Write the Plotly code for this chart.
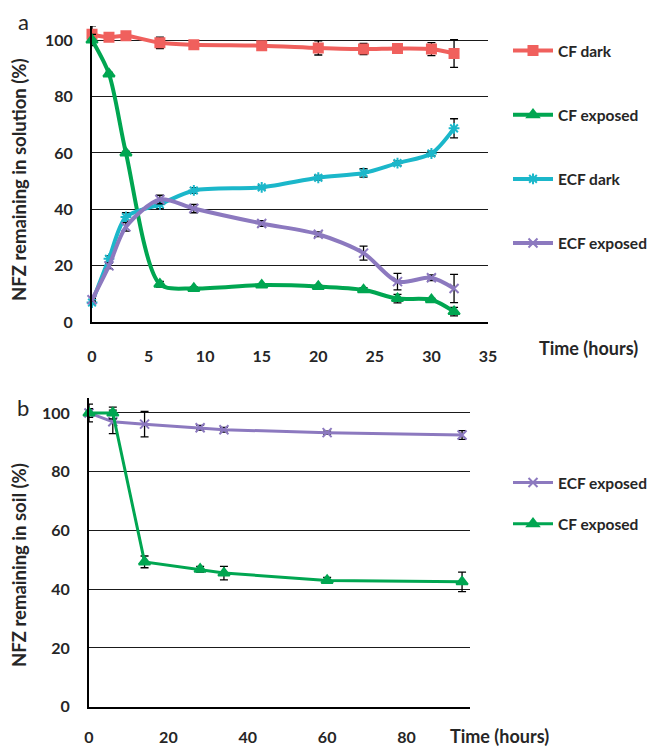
import plotly.graph_objects as go

# ---- Panel a data (solution) ----
time_a = [0, 1.5, 3, 6, 9, 15, 20, 24, 27, 30, 32]
cf_dark = [102, 101, 101.5, 99, 98.3, 98, 97.2, 96.8, 97, 96.8, 95.2]
cf_dark_err = [3, 0.5, 1.5, 2, 0.5, 0.5, 2.5, 2, 1.5, 2.3, 4.9]
cf_exposed = [100, 88, 60, 13.5, 12, 13.2, 12.7, 11.5, 8.4, 8, 3.8]
cf_exposed_err = [2, 0.5, 0.5, 1, 0.5, 0.5, 0.5, 0.8, 1.5, 0.5, 1.5]
ecf_dark = [7, 22.5, 37.3, 41.8, 46.7, 47.8, 51.2, 52.9, 56.4, 59.8, 68.7]
ecf_dark_err = [0.5, 1, 1.5, 1.5, 1, 0.5, 0.8, 1.5, 0.8, 0.8, 3.4]
ecf_exposed = [8, 20, 33.8, 43.5, 40.3, 35, 31.2, 24.5, 14.4, 15.8, 12]
ecf_exposed_err = [0.5, 1, 1.5, 1.5, 1.5, 1, 0.8, 2.5, 2.9, 1, 5]

# ---- Panel b data (soil) ----
time_b = [0, 6, 14, 28, 34, 60, 94]
ecf_soil = [100, 97, 96.2, 95, 94.3, 93.3, 92.5]
ecf_soil_err = [3, 4, 4.3, 0.8, 0.8, 0.5, 1.5]
cf_soil = [100, 100, 49.3, 46.8, 45.5, 43, 42.5]
cf_soil_err = [1.5, 2, 2, 1, 2.3, 1, 3.3]

ticks_a_x = [0, 5, 10, 15, 20, 25, 30, 35]
ticks_b_x = [0, 20, 40, 60, 80]
ticks_y = [0, 20, 40, 60, 80, 100]

RED = "#F0605D"
GREEN = "#00A651"
CYAN = "#1BB7CA"
PURPLE = "#8C79BF"
FONT = "Lato"
TXT = "#262626"

fig = go.Figure()

def err(vals):
    return dict(type="data", array=vals, visible=True, color="black", thickness=1.3, width=4)

series_a = [
    ("CF dark", cf_dark, cf_dark_err, RED, "square", 9),
    ("CF exposed", cf_exposed, cf_exposed_err, GREEN, "triangle-up", 10),
    ("ECF dark", ecf_dark, ecf_dark_err, CYAN, "asterisk-open", 9),
    ("ECF exposed", ecf_exposed, ecf_exposed_err, PURPLE, "x-thin-open", 9),
]
for i, (name, ys, es, col, sym, sz) in enumerate(series_a):
    fig.add_trace(go.Scatter(
        x=time_a, y=ys, name=name, mode="lines+markers",
        line=dict(color=col, width=4, shape="spline", smoothing=0.8),
        marker=dict(symbol=sym, size=sz, color=col, line=dict(color=col, width=2)),
        error_y=err(es), xaxis="x", yaxis="y", legend="legend",
        legendgroup=name, legendrank=i + 1, cliponaxis=False,
    ))

series_b = [
    ("ECF exposed", ecf_soil, ecf_soil_err, PURPLE, "x-thin-open", 9, 1),
    ("CF exposed", cf_soil, cf_soil_err, GREEN, "triangle-up", 10, 2),
]
for name, ys, es, col, sym, sz, rk in series_b:
    fig.add_trace(go.Scatter(
        x=time_b, y=ys, name=name, mode="lines+markers",
        line=dict(color=col, width=3),
        marker=dict(symbol=sym, size=sz, color=col, line=dict(color=col, width=2)),
        error_y=err(es), xaxis="x2", yaxis="y2", legend="legend2",
        legendgroup=name + "b", legendrank=rk, cliponaxis=False,
    ))

# page body adds an 8px margin; figure positioned to fill the visible window
OFF = 8
W, H = 659 - OFF, 746 - OFF
def px_x(p):
    return (p - OFF) / W
def px_y(p):
    return 1 - (p - OFF) / H

tickfont = dict(family=FONT, size=16, color=TXT, weight="bold")
axis_common = dict(showgrid=False, zeroline=False, ticks="", tickfont=tickfont,
                   showline=True, linecolor="black", linewidth=2, fixedrange=True,
                   automargin=False)
yaxis_common = dict(axis_common, showgrid=True, gridcolor="#1a1a1a", gridwidth=1,
                    tickvals=ticks_y, range=[0, 105], ticklabelstandoff=14)
legfont = dict(family=FONT, size=15.5, color=TXT, weight="bold")
titlefont = dict(family=FONT, size=18.5, color=TXT, weight="bold")

def ann(text, x, y, font, angle=0):
    return dict(text=text, x=px_x(x), y=px_y(y), xref="paper", yref="paper",
                xanchor="center", yanchor="middle", textangle=angle,
                showarrow=False, font=font)

fig.update_layout(
    width=W, height=H,
    margin=dict(l=0, r=0, t=0, b=0, autoexpand=False),
    paper_bgcolor="white", plot_bgcolor="white",
    xaxis=dict(axis_common, domain=[px_x(92), px_x(488)], range=[0, 35],
               tickvals=ticks_a_x, anchor="y", ticklabelstandoff=18),
    yaxis=dict(yaxis_common, domain=[px_y(322.3), px_y(25.9)], anchor="x"),
    xaxis2=dict(axis_common, domain=[px_x(89), px_x(470)], range=[0, 96],
                tickvals=ticks_b_x, anchor="y2", ticklabelstandoff=15),
    yaxis2=dict(yaxis_common, domain=[px_y(706.7), px_y(398.3)], anchor="x2"),
    legend=dict(x=px_x(508), y=px_y(34), xanchor="left", yanchor="top",
                font=legfont, tracegroupgap=41, traceorder="grouped", itemwidth=40,
                bgcolor="rgba(0,0,0,0)"),
    legend2=dict(x=px_x(508), y=px_y(466), xanchor="left", yanchor="top",
                 font=legfont, tracegroupgap=18, traceorder="grouped", itemwidth=40,
                 bgcolor="rgba(0,0,0,0)"),
    annotations=[
        ann("a", 23, 22, dict(family=FONT, size=22, color=TXT)),
        ann("b", 23, 407, dict(family=FONT, size=22, color=TXT)),
        ann("NFZ remaining in solution (%)", 19, 180, titlefont, -90),
        ann("NFZ remaining in soil (%)", 19, 565, titlefont, -90),
        ann("Time (hours)", 588, 348, dict(family=FONT, size=18, color=TXT, weight="bold")),
        ann("Time (hours)", 499, 736, dict(family=FONT, size=18, color=TXT, weight="bold")),
    ],
    showlegend=True,
)

fig.write_html("out.html")
